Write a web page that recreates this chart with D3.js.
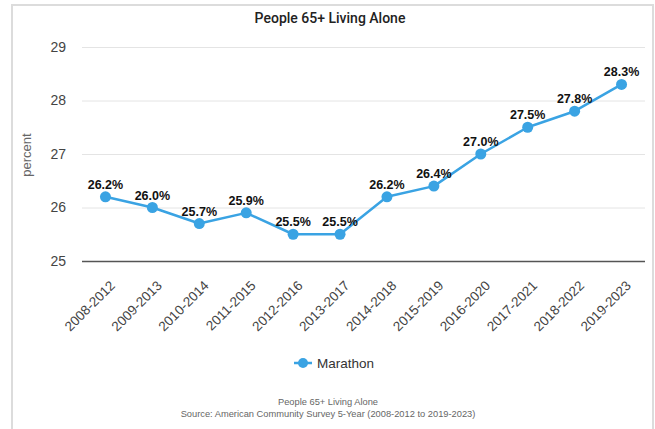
<!DOCTYPE html>
<html>
<head>
<meta charset="utf-8">
<script src="https://cdn.jsdelivr.net/npm/d3@7"></script>
<style>
  html, body { margin: 0; padding: 0; background: #fff; }
  svg { display: block; font-family: "Liberation Sans", Arial, sans-serif; }
</style>
</head>
<body>
<svg id="chart" width="655" height="429"></svg>
<script>
// Survey periods (5-year ACS windows)
const periods = ["2008-2012","2009-2013","2010-2014","2011-2015","2012-2016","2013-2017",
                 "2014-2018","2015-2019","2016-2020","2017-2021","2018-2022","2019-2023"];
// Share of people 65+ living alone, percent
const marathon = [26.2, 26.0, 25.7, 25.9, 25.5, 25.5, 26.2, 26.4, 27.0, 27.5, 27.8, 28.3];
const yTicks = [25, 26, 27, 28, 29];
const seriesName = "Marathon";
const chartTitle = "People 65+ Living Alone";
const footerLines = ["People 65+ Living Alone",
                     "Source: American Community Survey 5-Year (2008-2012 to 2019-2023)"];

const svg = d3.select("#chart");
const W = 655, H = 429;
const plot = { left: 82, right: 645, top: 47, bottom: 261 };
const blue = "#3aa3e3";

// outer frame
svg.append("rect")
  .attr("x", 12).attr("y", 5).attr("width", 641).attr("height", H)
  .attr("fill", "#fff").attr("stroke", "#dcdcdc").attr("stroke-width", 2);

const x = d3.scaleBand().domain(periods).range([plot.left, plot.right]).padding(0);
const y = d3.scaleLinear().domain([25, 29]).range([plot.bottom, plot.top]);

// title
svg.append("text")
  .attr("x", 330).attr("y", 23)
  .attr("text-anchor", "middle")
  .attr("font-family", "Roboto, sans-serif")
  .attr("font-weight", 500)
  .attr("font-size", 14)
  .attr("fill", "#222")
  .text(chartTitle);

// y axis with gridlines
const yAxis = svg.append("g")
  .attr("transform", `translate(${plot.left},0)`)
  .call(d3.axisLeft(y).tickValues(yTicks).tickFormat(d3.format("d"))
    .tickSize(-(plot.right - plot.left)).tickPadding(16));
yAxis.select(".domain").remove();
yAxis.selectAll(".tick line")
  .attr("stroke", d => d === 25 ? "#555" : "#e4e4e4")
  .attr("stroke-width", d => d === 25 ? 1.5 : 1);
yAxis.selectAll(".tick text")
  .attr("font-size", 14)
  .attr("fill", "#444")
  .attr("font-family", "Liberation Sans, Arial, sans-serif");

// y axis title
svg.append("text")
  .attr("transform", `translate(31,${(plot.top + plot.bottom) / 2 + 1}) rotate(-90)`)
  .attr("text-anchor", "middle")
  .attr("font-size", 13)
  .attr("fill", "#666")
  .text("percent");

// x axis labels
const xAxis = svg.append("g")
  .attr("transform", `translate(0,${plot.bottom})`)
  .call(d3.axisBottom(x).tickSize(0).tickPadding(0));
xAxis.select(".domain").remove();
xAxis.selectAll(".tick text")
  .attr("font-size", 13.5)
  .attr("fill", "#444")
  .attr("font-family", "Liberation Sans, Arial, sans-serif")
  .attr("text-anchor", "end")
  .attr("y", 0)
  .attr("dy", "0.35em")
  .attr("transform", "translate(7,22) rotate(-45)");

const cx = d => x(d) + x.bandwidth() / 2;

// line
const line = d3.line()
  .x((d, i) => cx(periods[i]))
  .y(d => y(d));
svg.append("path")
  .datum(marathon)
  .attr("fill", "none")
  .attr("stroke", blue)
  .attr("stroke-width", 2.5)
  .attr("stroke-linejoin", "round")
  .attr("d", line);

// points
svg.append("g").selectAll("circle")
  .data(marathon)
  .join("circle")
  .attr("cx", (d, i) => cx(periods[i]))
  .attr("cy", d => y(d))
  .attr("r", 5.5)
  .attr("fill", blue);

// value labels
svg.append("g").selectAll("text")
  .data(marathon)
  .join("text")
  .attr("x", (d, i) => cx(periods[i]))
  .attr("y", d => y(d) - 8)
  .attr("text-anchor", "middle")
  .attr("font-size", 12.5)
  .attr("font-weight", "bold")
  .attr("fill", "#111")
  .text(d => d.toFixed(1) + "%");

// legend
const lg = svg.append("g").attr("transform", "translate(303,363)");
lg.append("line").attr("x1", -9).attr("x2", 9).attr("y1", 0).attr("y2", 0)
  .attr("stroke", blue).attr("stroke-width", 2.5);
lg.append("circle").attr("r", 5).attr("fill", blue);
lg.append("text").attr("x", 14).attr("y", 5)
  .attr("font-size", 13.5).attr("fill", "#333").text(seriesName);

// footer
svg.append("g").selectAll("text")
  .data(footerLines)
  .join("text")
  .attr("x", 328)
  .attr("y", (d, i) => 405 + i * 12)
  .attr("text-anchor", "middle")
  .attr("font-size", 9.3)
  .attr("fill", "#666")
  .text(d => d);
</script>
</body>
</html>
